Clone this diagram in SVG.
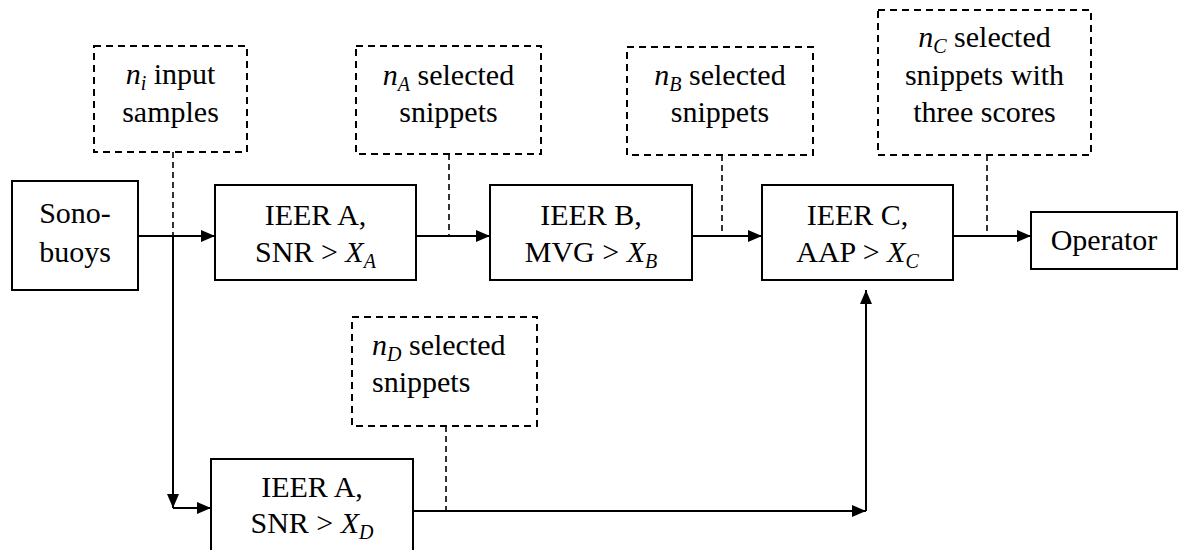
<svg xmlns="http://www.w3.org/2000/svg" width="1180" height="550" viewBox="0 0 1180 550">
<style>
text{font-family:'Liberation Serif','DejaVu Serif',serif;font-size:30px;fill:#000}
.c{text-anchor:middle}
.i{font-style:italic}
.s{font-size:20px;font-style:italic}
.box{fill:#fff;stroke:#000;stroke-width:2}
.dbox{fill:#fff;stroke:#000;stroke-width:2;stroke-dasharray:7,5}
.ln{fill:none;stroke:#000;stroke-width:2}
.dl{fill:none;stroke:#000;stroke-width:1.6;stroke-dasharray:6,4}
</style>
<defs>
<marker id="ar" viewBox="0 0 14 12" refX="14" refY="6" markerWidth="14" markerHeight="12" markerUnits="userSpaceOnUse" orient="auto">
<path d="M0,0 L14,6 L0,12 Z" fill="#000"/>
</marker>
</defs>
<g id="connectors">
<path class="ln" d="M138,236 H215" marker-end="url(#ar)"/>
<path class="ln" d="M416,236 H490" marker-end="url(#ar)"/>
<path class="ln" d="M692,236 H762" marker-end="url(#ar)"/>
<path class="ln" d="M953,236 H1031" marker-end="url(#ar)"/>
<path class="ln" d="M173,236 V508" marker-end="url(#ar)"/>
<path class="ln" d="M173,508 H211" marker-end="url(#ar)"/>
<path class="ln" d="M413,511 H866" marker-end="url(#ar)"/>
<path class="ln" d="M866,511 V290" marker-end="url(#ar)"/>
<path class="dl" d="M173,152 V236"/>
<path class="dl" d="M449,154 V236"/>
<path class="dl" d="M722,155 V236"/>
<path class="dl" d="M987,155 V236"/>
<path class="dl" d="M446,426 V511"/>
</g>
<g id="sonobuoys">
<rect class="box" x="12" y="181" width="126" height="109"/>
<text class="c" x="75" y="223">Sono-</text>
<text class="c" x="75" y="262">buoys</text>
</g>
<g id="ieerA">
<rect class="box" x="215" y="185" width="201" height="95"/>
<text class="c" x="315.5" y="225">IEER A,</text>
<text class="c" x="315.5" y="262">SNR &gt; <tspan class="i">X</tspan><tspan class="s" dy="6">A</tspan></text>
</g>
<g id="ieerB">
<rect class="box" x="490" y="185" width="202" height="95"/>
<text class="c" x="591" y="225">IEER B,</text>
<text class="c" x="591" y="262">MVG &gt; <tspan class="i">X</tspan><tspan class="s" dy="6">B</tspan></text>
</g>
<g id="ieerC">
<rect class="box" x="762" y="185" width="191" height="95"/>
<text class="c" x="857.5" y="225">IEER C,</text>
<text class="c" x="857.5" y="262">AAP &gt; <tspan class="i">X</tspan><tspan class="s" dy="6">C</tspan></text>
</g>
<g id="operator">
<rect class="box" x="1031" y="212" width="146" height="57"/>
<text class="c" x="1104" y="250">Operator</text>
</g>
<g id="ieerA2">
<rect class="box" x="211" y="459" width="202" height="100"/>
<text class="c" x="312" y="497">IEER A,</text>
<text class="c" x="312" y="533">SNR &gt; <tspan class="i">X</tspan><tspan class="s" dy="6">D</tspan></text>
</g>
<g id="noteNi">
<rect class="dbox" x="94" y="46" width="153" height="106"/>
<text class="c" x="170.5" y="84"><tspan class="i">n</tspan><tspan class="s" dy="6">i</tspan><tspan dy="-6"> input</tspan></text>
<text class="c" x="170.5" y="122">samples</text>
</g>
<g id="noteNa">
<rect class="dbox" x="356" y="46" width="185" height="108"/>
<text class="c" x="448.5" y="85"><tspan class="i">n</tspan><tspan class="s" dy="6">A</tspan><tspan dy="-6"> selected</tspan></text>
<text class="c" x="448.5" y="122">snippets</text>
</g>
<g id="noteNb">
<rect class="dbox" x="627" y="47" width="186" height="108"/>
<text class="c" x="720" y="85"><tspan class="i">n</tspan><tspan class="s" dy="6">B</tspan><tspan dy="-6"> selected</tspan></text>
<text class="c" x="720" y="122">snippets</text>
</g>
<g id="noteNc">
<rect class="dbox" x="878" y="10" width="213" height="145"/>
<text class="c" x="984.5" y="47"><tspan class="i">n</tspan><tspan class="s" dy="6">C</tspan><tspan dy="-6"> selected</tspan></text>
<text class="c" x="984.5" y="85">snippets with</text>
<text class="c" x="984.5" y="122">three scores</text>
</g>
<g id="noteNd">
<rect class="dbox" x="352" y="317" width="185" height="109"/>
<text x="372" y="355"><tspan class="i">n</tspan><tspan class="s" dy="6">D</tspan><tspan dy="-6"> selected</tspan></text>
<text x="372" y="392">snippets</text>
</g>
</svg>
